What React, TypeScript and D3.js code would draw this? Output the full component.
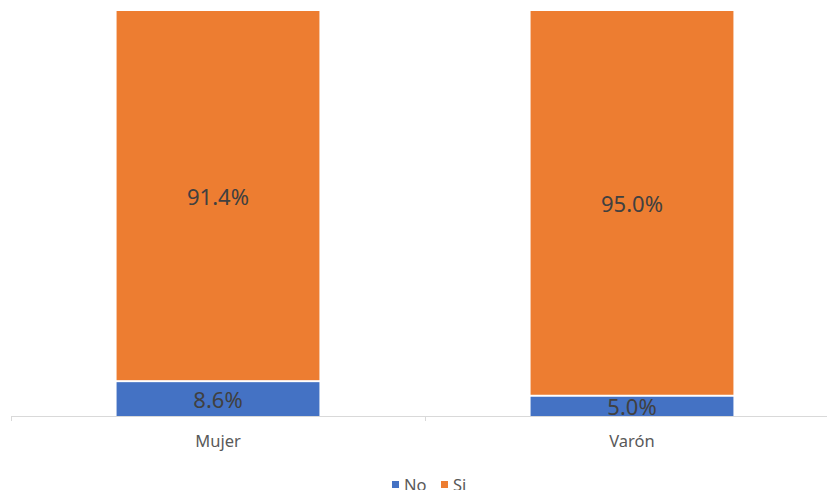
import { useEffect, useRef } from 'react';
import * as d3 from 'd3';

const categories = ['Mujer', 'Varón'];
const noValues = [8.6, 5.0];
const siValues = [91.4, 95.0];
const seriesNames = ['No', 'Si'];
const seriesColors = ['#4472C4', '#ED7D31'];

export default function App() {
  const svgRef = useRef<SVGSVGElement | null>(null);

  useEffect(() => {
    if (!svgRef.current) return;
    const width = 827;
    const height = 490;
    const svg = d3.select(svgRef.current);
    svg.selectAll('*').remove();
    svg.attr('width', width).attr('height', height);

    const font = '"Noto Sans", "Open Sans", sans-serif';
    const plot = { left: 11, right: 839, top: 11, bottom: 416 };

    const x = d3.scaleBand<string>()
      .domain(categories)
      .range([plot.left, plot.right])
      .paddingInner(0)
      .paddingOuter(0);
    const barW = x.bandwidth() * 0.49;

    const y = d3.scaleLinear().domain([0, 100]).range([plot.bottom, plot.top]);

    const rows = categories.map((c, i) => ({ c, no: noValues[i], si: siValues[i] }));
    const stack = d3.stack<any>().keys(['no', 'si'])(rows);

    const g = svg.append('g');
    stack.forEach((layer, li) => {
      layer.forEach((d, i) => {
        const cx = (x(categories[i]) as number) + x.bandwidth() / 2;
        const y0 = y(d[0]);
        const y1 = y(d[1]);
        const top = y1 + (li === 0 ? 1 : 0);
        const bot = y0 - (li === 1 ? 1 : 0);
        g.append('rect')
          .attr('x', cx - barW / 2)
          .attr('y', top)
          .attr('width', barW)
          .attr('height', Math.max(0, bot - top))
          .attr('fill', seriesColors[li]);
        g.append('text')
          .attr('x', cx)
          .attr('y', (y0 + y1) / 2 + 1)
          .attr('dy', '0.36em')
          .attr('text-anchor', 'middle')
          .attr('font-family', font)
          .attr('font-size', 22)
          .attr('fill', '#404040')
          .text(`${(d[1] - d[0]).toFixed(1)}%`);
      });
    });

    // axis
    const axis = svg.append('g').attr('stroke', '#D9D9D9').attr('stroke-width', 1);
    axis.append('line')
      .attr('x1', plot.left).attr('x2', width)
      .attr('y1', plot.bottom + 0.5).attr('y2', plot.bottom + 0.5);
    const ticks = [...categories.map((c) => x(c) as number), plot.right];
    ticks.forEach((t) => {
      axis.append('line')
        .attr('x1', Math.round(t) + 0.5).attr('x2', Math.round(t) + 0.5)
        .attr('y1', plot.bottom).attr('y2', plot.bottom + 5);
    });

    svg.append('g')
      .selectAll('text')
      .data(categories)
      .join('text')
      .attr('x', (c) => (x(c) as number) + x.bandwidth() / 2)
      .attr('y', 441)
      .attr('dy', '0.36em')
      .attr('text-anchor', 'middle')
      .attr('font-family', font)
      .attr('font-size', 16.5)
      .attr('fill', '#595959')
      .text((c) => c);

    // legend
    const legendX = [392, 441];
    const lg = svg.append('g');
    seriesNames.forEach((name, i) => {
      lg.append('rect')
        .attr('x', legendX[i]).attr('y', 481)
        .attr('width', 7).attr('height', 7)
        .attr('fill', seriesColors[i]);
      lg.append('text')
        .attr('x', legendX[i] + 12)
        .attr('y', 485)
        .attr('dy', '0.36em')
        .attr('font-family', font)
        .attr('font-size', 16.5)
        .attr('fill', '#595959')
        .text(name);
    });
  }, []);

  return (
    <svg
      ref={svgRef}
      style={{ position: 'absolute', left: 0, top: 0, display: 'block', background: '#fff' }}
    />
  );
}
